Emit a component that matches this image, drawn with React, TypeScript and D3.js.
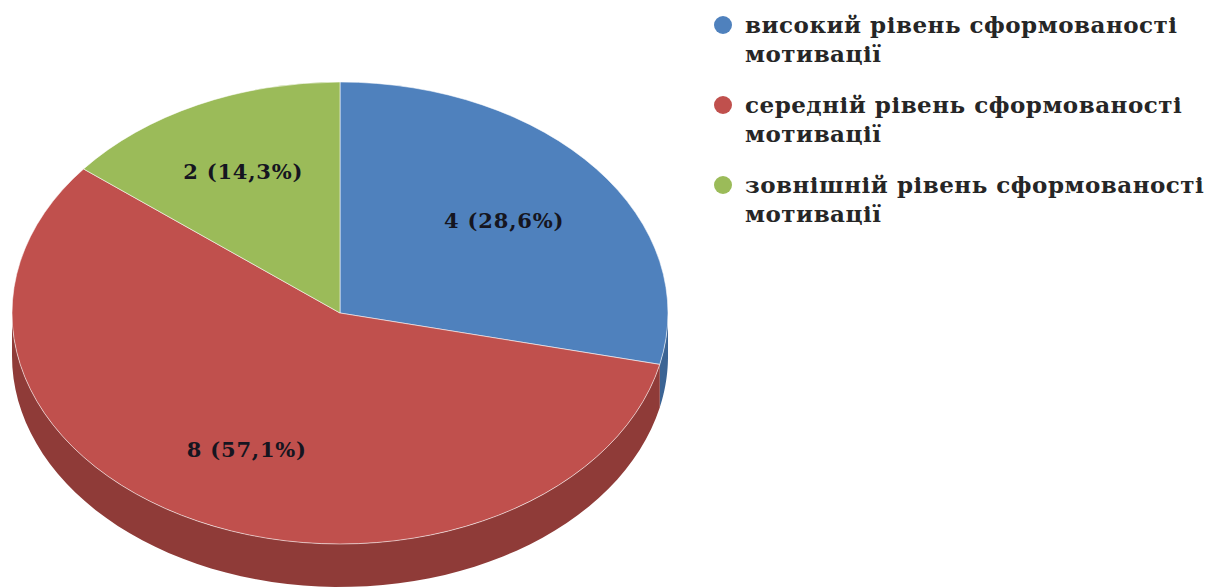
import React from "react";
import * as d3 from "d3";

const categories = [
  "високий рівень сформованості мотивації",
  "середній рівень сформованості мотивації",
  "зовнішній рівень сформованості мотивації",
];
const legendLines = [
  ["високий рівень сформованості", "мотивації"],
  ["середній рівень сформованості", "мотивації"],
  ["зовнішній рівень сформованості", "мотивації"],
];
const values = [4, 8, 2];
const labels = ["4 (28,6%)", "8 (57,1%)", "2 (14,3%)"];
const colors = ["#4F81BD", "#C0504D", "#9BBB59"];
const sideColors = ["#3B6494", "#8F3B38", "#789445"];

const W = 1228;
const H = 587;
const cx = 340;
const cy = 313;
const rx = 328;
const ry = 231;
const depth = 43;
const FONT = "'DejaVu Serif', 'Liberation Serif', serif";

export default function App() {
  const pie = d3.pie<number>().sort(null).value((d) => d).startAngle(0).endAngle(2 * Math.PI);
  const arcs = pie(values);
  const arcGen = d3.arc<d3.PieArcDatum<number>>().innerRadius(0).outerRadius(rx);

  const px = (a: number) => cx + rx * Math.sin(a);
  const py = (a: number) => cy - ry * Math.cos(a);

  const sides = arcs.map((a, i) => {
    const a0 = Math.max(a.startAngle, Math.PI / 2);
    const a1 = Math.min(a.endAngle, (3 * Math.PI) / 2);
    if (a1 <= a0) return null;
    const n = 60;
    const angs = d3.range(n + 1).map((k) => a0 + ((a1 - a0) * k) / n);
    const top = angs.map((t) => [px(t), py(t)] as [number, number]);
    const bottom = angs.slice().reverse().map((t) => [px(t), py(t) + depth] as [number, number]);
    const line = d3.line();
    const d = line([...top, ...bottom]) + "Z";
    return <path key={"s" + i} d={d} fill={sideColors[i]} />;
  });

  const labelR = [0.64, 0.655, 0.68];

  return (
    <svg width={W} height={H} style={{ display: "block", position: "absolute", left: 0, top: 0 }}>
      <rect width={W} height={H} fill="#fff" />
      {sides}
      <g transform={`translate(${cx},${cy}) scale(1,${ry / rx})`}>
        {arcs.map((a, i) => (
          <path
            key={"t" + i}
            d={arcGen(a) || ""}
            fill={colors[i]}
            stroke="#ffffff"
            strokeOpacity={0.55}
            strokeWidth={1}
            vectorEffect="non-scaling-stroke"
          />
        ))}
      </g>
      {arcs.map((a, i) => {
        const m = (a.startAngle + a.endAngle) / 2;
        const x = cx + labelR[i] * rx * Math.sin(m);
        const y = cy - labelR[i] * ry * Math.cos(m);
        return (
          <text
            key={"l" + i}
            x={x}
            y={y}
            textAnchor="middle"
            dominantBaseline="central"
            fontFamily={FONT}
            fontWeight="bold"
            fontSize={21}
            letterSpacing={0.8}
            fill="#151520"
          >
            {labels[i]}
          </text>
        );
      })}
      {categories.map((c, i) => {
        const y0 = 25 + i * 80;
        return (
          <g key={"g" + i}>
            <circle cx={723} cy={y0} r={9} fill={colors[i]} />
            {legendLines[i].map((ln, j) => (
              <text
                key={j}
                x={745}
                y={y0 + 8 + j * 29}
                fontFamily={FONT}
                fontWeight="bold"
                fontSize={23}
                letterSpacing={0.5}
                fill="#262626"
              >
                {ln}
              </text>
            ))}
          </g>
        );
      })}
    </svg>
  );
}
